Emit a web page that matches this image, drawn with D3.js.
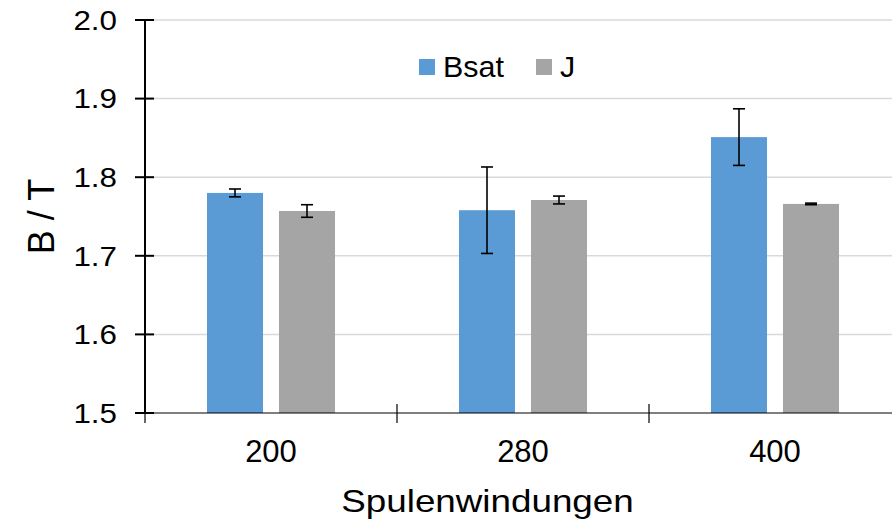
<!DOCTYPE html>
<html>
<head>
<meta charset="utf-8">
<script src="https://cdn.jsdelivr.net/npm/d3@7"></script>
<style>
  html, body { margin: 0; padding: 0; background: #fff; }
  svg { display: block; }
  text { font-family: "Liberation Sans", Arial, sans-serif; fill: #000; }
</style>
</head>
<body>
<svg id="chart" width="892" height="522"></svg>
<script>
// ---- data ----
const categories = ["200", "280", "400"];
const seriesNames = ["Bsat", "J"];
const bsatValues = [1.780, 1.758, 1.851];
const bsatErrors = [0.005, 0.055, 0.036];
const jValues = [1.757, 1.771, 1.766];
const jErrors = [0.008, 0.005, 0.001];
const yTicks = [1.5, 1.6, 1.7, 1.8, 1.9, 2.0];
const xTitle = "Spulenwindungen";
const yTitle = "B / T";

const colors = { Bsat: "#5b9bd5", J: "#a5a5a5" };

const rows = categories.map((c, i) => ({
  cat: c,
  bars: [
    { name: "Bsat", value: bsatValues[i], err: bsatErrors[i] },
    { name: "J", value: jValues[i], err: jErrors[i] }
  ]
}));

const svg = d3.select("#chart");

const x = d3.scaleBand().domain(categories).range([145, 901]).paddingInner(0).paddingOuter(0);
const xs = d3.scaleBand().domain(seriesNames).range([0, x.bandwidth()]).paddingInner(0.222).paddingOuter(0.861);
const y = d3.scaleLinear().domain([1.5, 2.0]).range([413, 20]);

// gridlines
svg.append("g").selectAll("line").data(yTicks.slice(1)).join("line")
  .attr("x1", 145).attr("x2", 892)
  .attr("y1", d => y(d)).attr("y2", d => y(d))
  .attr("stroke", "#d9d9d9").attr("stroke-width", 1.5);

// bars
const groups = svg.append("g").selectAll("g").data(rows).join("g")
  .attr("transform", d => `translate(${x(d.cat)},0)`);

groups.selectAll("rect").data(d => d.bars).join("rect")
  .attr("x", d => xs(d.name))
  .attr("width", xs.bandwidth())
  .attr("y", d => y(d.value))
  .attr("height", d => y(1.5) - y(d.value))
  .attr("fill", d => colors[d.name]);

// error bars
const capW = 12;
const eb = groups.selectAll("g.err").data(d => d.bars).join("g").attr("class", "err")
  .attr("stroke", "#000").attr("stroke-width", 1.6);
eb.append("line")
  .attr("x1", d => xs(d.name) + xs.bandwidth() / 2)
  .attr("x2", d => xs(d.name) + xs.bandwidth() / 2)
  .attr("y1", d => y(d.value + d.err))
  .attr("y2", d => y(d.value - d.err));
eb.append("line")
  .attr("x1", d => xs(d.name) + xs.bandwidth() / 2 - capW / 2)
  .attr("x2", d => xs(d.name) + xs.bandwidth() / 2 + capW / 2)
  .attr("y1", d => y(d.value + d.err))
  .attr("y2", d => y(d.value + d.err));
eb.append("line")
  .attr("x1", d => xs(d.name) + xs.bandwidth() / 2 - capW / 2)
  .attr("x2", d => xs(d.name) + xs.bandwidth() / 2 + capW / 2)
  .attr("y1", d => y(d.value - d.err))
  .attr("y2", d => y(d.value - d.err));

// x axis
const xAxisG = svg.append("g");
xAxisG.append("line").attr("x1", 145).attr("x2", 892).attr("y1", y(1.5)).attr("y2", y(1.5))
  .attr("stroke", "#000").attr("stroke-width", 1.2);
const xBoundaries = categories.map(c => x(c));
xAxisG.selectAll("line.tick").data(xBoundaries).join("line").attr("class", "tick")
  .attr("x1", d => d).attr("x2", d => d)
  .attr("y1", y(1.5) - 9).attr("y2", y(1.5) + 10)
  .attr("stroke", "#000").attr("stroke-width", 1.2);
xAxisG.selectAll("text").data(categories).join("text")
  .attr("x", d => x(d) + x.bandwidth() / 2)
  .attr("y", 462)
  .attr("text-anchor", "middle")
  .attr("font-size", 31)
  .text(d => d);

// y axis
const yAxisG = svg.append("g");
yAxisG.append("line").attr("x1", 145).attr("x2", 145).attr("y1", y(2.0)).attr("y2", y(1.5))
  .attr("stroke", "#000").attr("stroke-width", 2);
yAxisG.selectAll("line.tick").data(yTicks).join("line").attr("class", "tick")
  .attr("x1", 135).attr("x2", 154)
  .attr("y1", d => y(d)).attr("y2", d => y(d))
  .attr("stroke", "#000").attr("stroke-width", 2);
yAxisG.selectAll("g.lbl").data(yTicks).join("g").attr("class", "lbl")
  .attr("transform", d => `translate(117,${y(d)}) scale(1.12,1)`)
  .append("text")
  .attr("text-anchor", "end")
  .attr("dy", "0.35em")
  .attr("font-size", 28)
  .text(d => d3.format(".1f")(d));

// axis titles
svg.append("g").attr("transform", "translate(487.5,512) scale(1.15,1)")
  .append("text").attr("text-anchor", "middle").attr("font-size", 32).text(xTitle);
svg.append("g").attr("transform", "translate(54,216.5) rotate(-90)")
  .append("text").attr("text-anchor", "middle").attr("font-size", 36).text(yTitle);

// legend
const legendX = [419, 536];
const lg = svg.append("g").selectAll("g").data(seriesNames).join("g")
  .attr("transform", (d, i) => `translate(${legendX[i]},59)`);
lg.append("rect").attr("width", 16).attr("height", 16).attr("fill", d => colors[d]);
lg.append("g").attr("transform", "translate(24,17.7) scale(1.05,1)")
  .append("text").attr("font-size", 29).text(d => d);
</script>
</body>
</html>
